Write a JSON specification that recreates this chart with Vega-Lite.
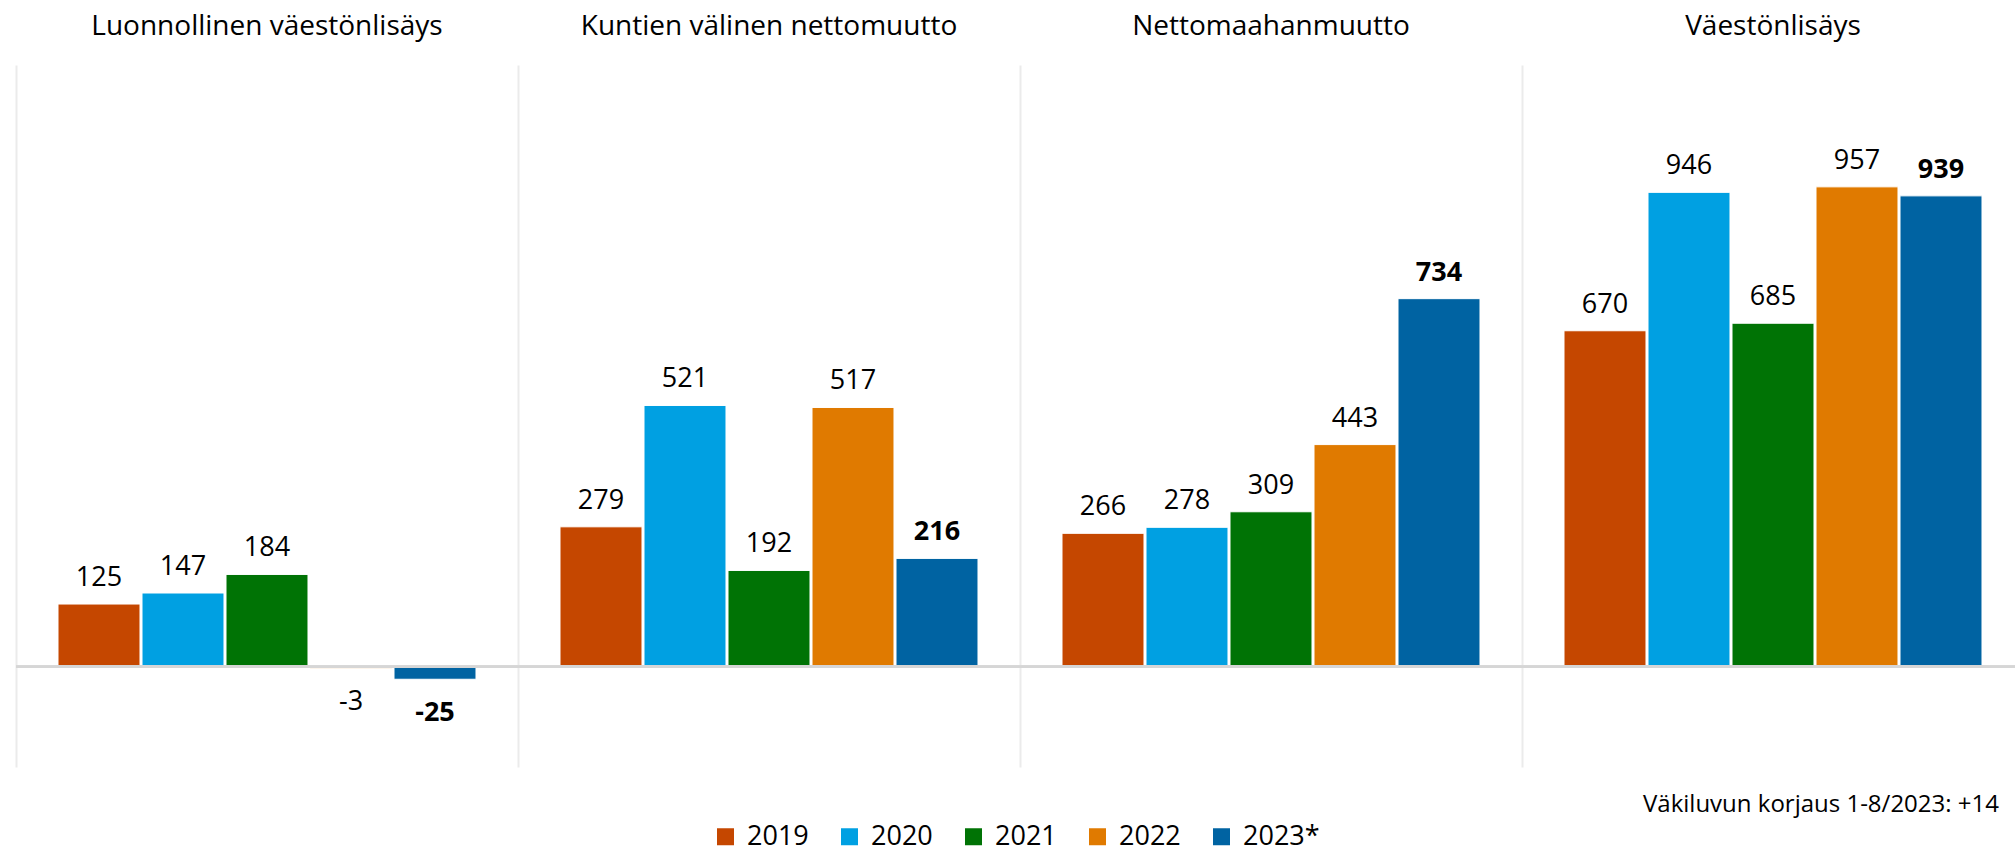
{
  "$schema": "https://vega.github.io/schema/vega-lite/v6.json",
  "width": 1999,
  "height": 702,
  "autosize": {"type": "none"},
  "padding": {"left": 16, "top": 65, "right": 0, "bottom": 85},
  "background": "#ffffff",
  "config": {
    "view": {"stroke": null},
    "font": "Open Sans",
    "text": {"font": "Open Sans", "color": "#000000"},
    "locale": {
      "number": {"decimal": ",", "thousands": " ", "grouping": [3], "currency": ["", " €"], "minus": "-"}
    }
  },
  "title": {
    "text": "Väkiluvun korjaus 1-8/2023: +14",
    "orient": "bottom",
    "anchor": "end",
    "frame": "group",
    "dx": -16,
    "offset": -57,
    "font": "Open Sans",
    "fontSize": 24,
    "fontWeight": "normal",
    "color": "#000000"
  },
  "data": {
    "values": [
      {"component": "Luonnollinen väestönlisäys", "year": "2019", "value": 125},
      {"component": "Luonnollinen väestönlisäys", "year": "2020", "value": 147},
      {"component": "Luonnollinen väestönlisäys", "year": "2021", "value": 184},
      {"component": "Luonnollinen väestönlisäys", "year": "2022", "value": -3},
      {"component": "Luonnollinen väestönlisäys", "year": "2023*", "value": -25},
      {"component": "Kuntien välinen nettomuutto", "year": "2019", "value": 279},
      {"component": "Kuntien välinen nettomuutto", "year": "2020", "value": 521},
      {"component": "Kuntien välinen nettomuutto", "year": "2021", "value": 192},
      {"component": "Kuntien välinen nettomuutto", "year": "2022", "value": 517},
      {"component": "Kuntien välinen nettomuutto", "year": "2023*", "value": 216},
      {"component": "Nettomaahanmuutto", "year": "2019", "value": 266},
      {"component": "Nettomaahanmuutto", "year": "2020", "value": 278},
      {"component": "Nettomaahanmuutto", "year": "2021", "value": 309},
      {"component": "Nettomaahanmuutto", "year": "2022", "value": 443},
      {"component": "Nettomaahanmuutto", "year": "2023*", "value": 734},
      {"component": "Väestönlisäys", "year": "2019", "value": 670},
      {"component": "Väestönlisäys", "year": "2020", "value": 946},
      {"component": "Väestönlisäys", "year": "2021", "value": 685},
      {"component": "Väestönlisäys", "year": "2022", "value": 957},
      {"component": "Väestönlisäys", "year": "2023*", "value": 939}
    ]
  },
  "resolve": {"axis": {"x": "independent"}},
  "layer": [
    {
      "mark": {"type": "bar", "stroke": "#ffffff", "strokeWidth": 1},
      "encoding": {
        "x": {
          "field": "component", "type": "nominal", "sort": null,
          "scale": {"range": [0, 2008], "paddingInner": 0, "paddingOuter": 0},
          "axis": {
            "orient": "top", "title": null, "domain": false, "ticks": false, "tickSize": 0,
            "labelAngle": 0, "labelPadding": 39, "labelBaseline": "middle", "labelAlign": "center",
            "labelFont": "Open Sans", "labelFontSize": 28, "labelColor": "#000000", "labelLimit": 0
          }
        },
        "xOffset": {
          "field": "year", "type": "nominal", "sort": null,
          "scale": {"paddingInner": 0.024, "paddingOuter": 0.5}
        },
        "y": {
          "field": "value", "type": "quantitative",
          "scale": {"domain": [-200, 1200], "nice": false, "zero": true},
          "axis": null
        },
        "color": {
          "field": "year", "type": "nominal", "sort": null,
          "scale": {
            "domain": ["2019", "2020", "2021", "2022", "2023*"],
            "range": ["#c54700", "#00a0e2", "#007305", "#e07a00", "#0063a2"]
          },
          "legend": {
            "title": null, "orient": "none", "legendX": 696, "legendY": 758,
            "direction": "horizontal",
            "symbolType": "square", "symbolSize": 289, "symbolStrokeWidth": 0,
            "labelFont": "Open Sans", "labelFontSize": 27, "labelColor": "#000000",
            "labelOffset": 8, "columnPadding": 27
          }
        }
      }
    },
    {
      "mark": {"type": "rule", "color": "#d6d6d6", "strokeWidth": 2},
      "encoding": {
        "y": {"datum": 0, "type": "quantitative"}
      }
    },
    {
      "transform": [{"filter": "datum.value >= 0 && datum.year != '2023*'"}],
      "mark": {"type": "text", "baseline": "alphabetic", "dy": -18, "fontSize": 27, "font": "Open Sans", "color": "#000000"},
      "encoding": {
        "x": {
          "field": "component", "type": "nominal", "sort": null,
          "axis": {
            "orient": "bottom", "title": null, "grid": true, "gridColor": "#ebebeb", "gridWidth": 2,
            "bandPosition": 0, "labels": false, "ticks": false, "domain": false
          }
        },
        "xOffset": {"field": "year", "type": "nominal", "sort": null},
        "y": {"field": "value", "type": "quantitative"},
        "text": {"field": "value", "type": "quantitative", "format": "d"}
      }
    },
    {
      "transform": [{"filter": "datum.value >= 0 && datum.year == '2023*'"}],
      "mark": {"type": "text", "baseline": "alphabetic", "dy": -18, "fontSize": 27, "fontWeight": "bold", "font": "Open Sans", "color": "#000000"},
      "encoding": {
        "x": {"field": "component", "type": "nominal", "sort": null, "axis": null},
        "xOffset": {"field": "year", "type": "nominal", "sort": null},
        "y": {"field": "value", "type": "quantitative"},
        "text": {"field": "value", "type": "quantitative", "format": "d"}
      }
    },
    {
      "transform": [{"filter": "datum.value < 0 && datum.year != '2023*'"}],
      "mark": {"type": "text", "baseline": "top", "dy": 21, "fontSize": 27, "font": "Open Sans", "color": "#000000"},
      "encoding": {
        "x": {"field": "component", "type": "nominal", "sort": null, "axis": null},
        "xOffset": {"field": "year", "type": "nominal", "sort": null},
        "y": {"field": "value", "type": "quantitative"},
        "text": {"field": "value", "type": "quantitative", "format": "d"}
      }
    },
    {
      "transform": [{"filter": "datum.value < 0 && datum.year == '2023*'"}],
      "mark": {"type": "text", "baseline": "top", "dy": 21, "fontSize": 27, "fontWeight": "bold", "font": "Open Sans", "color": "#000000"},
      "encoding": {
        "x": {"field": "component", "type": "nominal", "sort": null, "axis": null},
        "xOffset": {"field": "year", "type": "nominal", "sort": null},
        "y": {"field": "value", "type": "quantitative"},
        "text": {"field": "value", "type": "quantitative", "format": "d"}
      }
    }
  ]
}
